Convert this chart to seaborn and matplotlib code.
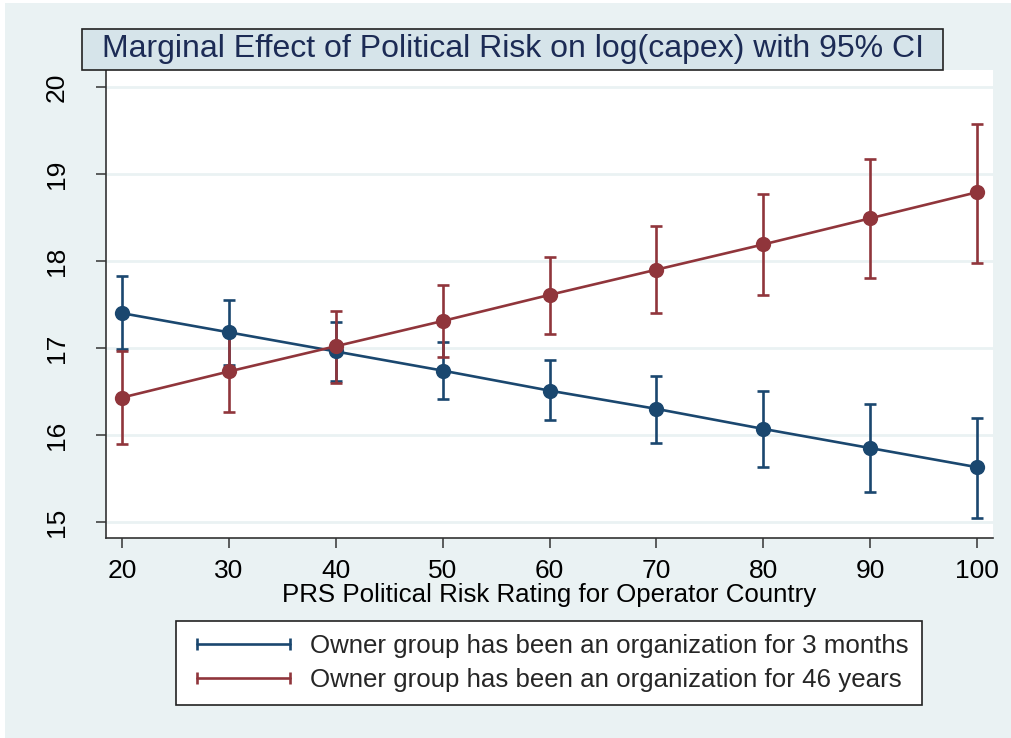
import matplotlib
matplotlib.use("Agg")
import matplotlib.pyplot as plt
import seaborn as sns
import pandas as pd
import numpy as np
from matplotlib.patches import Rectangle
from matplotlib.lines import Line2D

# ---- data ----
risk = [20, 30, 40, 50, 60, 70, 80, 90, 100]
young = [17.40, 17.18, 16.96, 16.74, 16.51, 16.30, 16.07, 15.85, 15.63]
young_lo = [16.99, 16.81, 16.62, 16.41, 16.17, 15.91, 15.63, 15.34, 15.05]
young_hi = [17.83, 17.55, 17.30, 17.07, 16.86, 16.68, 16.51, 16.36, 16.20]
old = [16.43, 16.73, 17.02, 17.31, 17.61, 17.90, 18.19, 18.49, 18.79]
old_lo = [15.90, 16.26, 16.60, 16.90, 17.16, 17.40, 17.61, 17.81, 17.98]
old_hi = [16.97, 17.20, 17.43, 17.72, 18.05, 18.40, 18.77, 19.17, 19.57]
series_labels = ["Owner group has been an organization for 3 months",
                 "Owner group has been an organization for 46 years"]
yticks = [15, 16, 17, 18, 19, 20]
xticks = [20, 30, 40, 50, 60, 70, 80, 90, 100]
title = "Marginal Effect of Political Risk on log(capex) with 95% CI"
xlabel = "PRS Political Risk Rating for Operator Country"

BLUE = "#1a476f"
RED = "#90353b"
BG = "#eaf2f3"
TITLEBOX = "#d6e4ea"

sns.set_theme(style="white")
plt.rcParams["font.family"] = ["Liberation Sans", "DejaVu Sans"]

df = pd.DataFrame({
    "risk": risk * 2,
    "est": young + old,
    "group": [series_labels[0]] * len(risk) + [series_labels[1]] * len(risk),
})

fig = plt.figure(figsize=(10.11, 7.38), dpi=100)
fig.patch.set_facecolor(BG)
ax = fig.add_axes([106/1011, 1-538/738, (993-106)/1011, (538-70)/738])
ax.set_facecolor("white")

LW = 1.9
# CIs first (as Stata marginsplot)
for est, lo, hi, c in [(young, young_lo, young_hi, BLUE), (old, old_lo, old_hi, RED)]:
    est = np.array(est); lo = np.array(lo); hi = np.array(hi)
    ax.errorbar(risk, est, yerr=[est - lo, hi - est], fmt="none", ecolor=c,
                elinewidth=LW, capsize=4.5, capthick=LW, zorder=2)

sns.lineplot(data=df, x="risk", y="est", hue="group",
             palette=[BLUE, RED], marker="o", markersize=11,
             markeredgewidth=0, linewidth=LW, ax=ax, legend=False, zorder=3)

ax.set_xlim(18.5, 101.5)
ax.set_ylim(14.816, 20.195)
ax.set_xticks(xticks)
ax.set_yticks(yticks)
ax.set_xticklabels([str(v) for v in xticks], fontsize=19)
ax.set_yticklabels([str(v) for v in yticks], fontsize=19, rotation=90, va="center")
ax.grid(axis="y", color=BG, linewidth=2)
ax.grid(axis="x", visible=False)
for s in ["top", "right"]:
    ax.spines[s].set_visible(False)
for s in ["left", "bottom"]:
    ax.spines[s].set_color("#333333")
    ax.spines[s].set_linewidth(1.2)
ax.tick_params(axis="both", which="both", length=7, width=1.1, color="#333333",
               direction="out", left=True, bottom=True, labelcolor="black")
ax.tick_params(axis="x", pad=8)
ax.tick_params(axis="y", pad=20)
ax.set_xlabel(xlabel, fontsize=18.6, labelpad=0, color="black")
ax.set_ylabel("")

# white edge at top/left like the reference
fig.patches.append(Rectangle((0, 0), 5/1011, 1, transform=fig.transFigure,
                             facecolor="white", edgecolor="none", zorder=-1))
fig.patches.append(Rectangle((0, 1-3/738), 1, 3/738, transform=fig.transFigure,
                             facecolor="white", edgecolor="none", zorder=-1))

# title box
fig.patches.append(Rectangle((82/1011, 1-70/738), (943-82)/1011, 41/738,
                             transform=fig.transFigure, facecolor=TITLEBOX,
                             edgecolor="#222222", linewidth=1.2, zorder=5))
fig.text(513/1011, 1-49/738, title, ha="center", va="center",
         fontsize=23, color="#1c2b55", zorder=6)

handles = [Line2D([0], [0], color=c, lw=LW, marker="|", markersize=9,
                  markeredgewidth=LW) for c in (BLUE, RED)]
leg = fig.legend(handles, series_labels, loc="center",
                 bbox_to_anchor=(549/1011, 1-663/738), numpoints=2,
                 fontsize=18.6, frameon=True, fancybox=False, edgecolor="#222222",
                 framealpha=1, handlelength=4.2, handletextpad=0.5,
                 labelspacing=0.4, borderpad=0.5, borderaxespad=0)
leg.get_frame().set_linewidth(1.2)

fig.savefig("out.png", dpi=100, facecolor=fig.get_facecolor())
